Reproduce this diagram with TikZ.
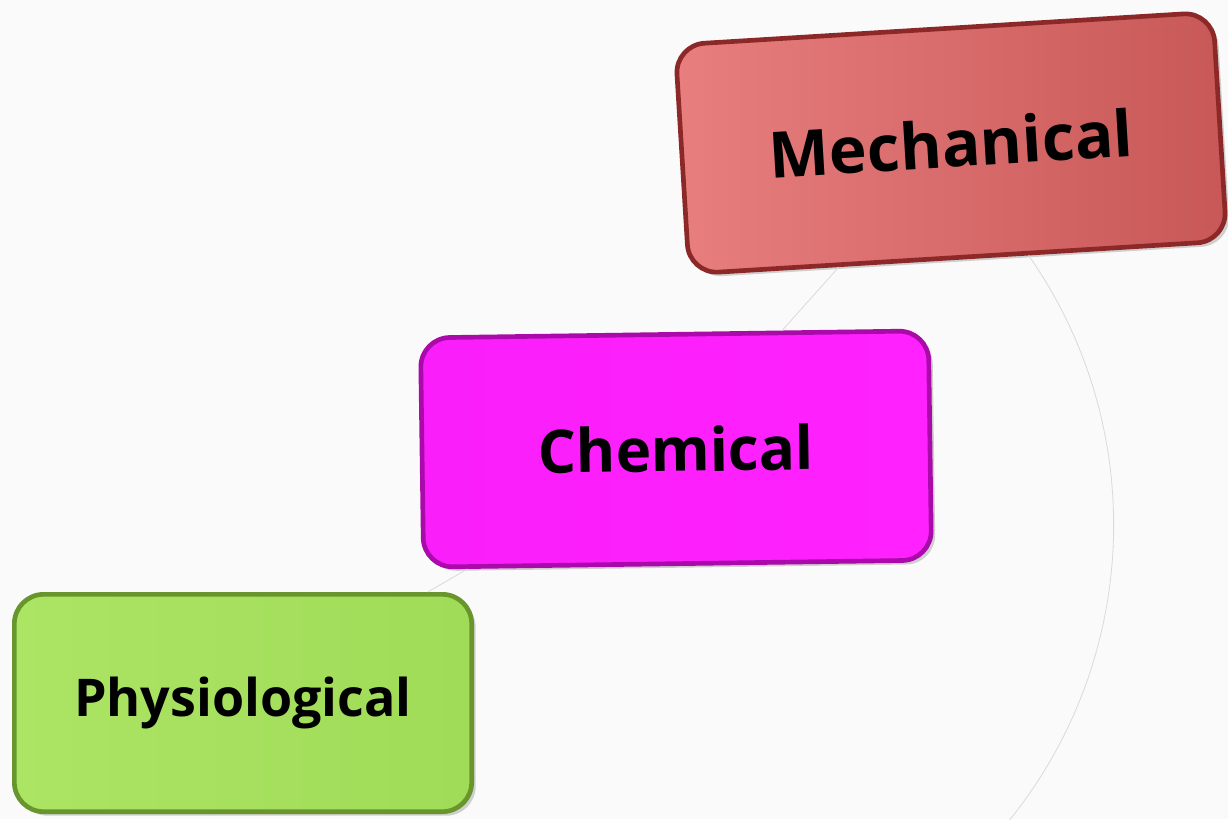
\documentclass[tikz,border=0pt]{standalone}
\usepackage{fontspec}
\setmainfont{Open Sans}
\usetikzlibrary{shadows,calc}

\definecolor{pageGray}{RGB}{250,250,250}
\definecolor{arcGray}{RGB}{218,218,218}
\definecolor{mechLight}{RGB}{232,126,126}
\definecolor{mechDark}{RGB}{200,88,88}
\definecolor{mechEdge}{RGB}{140,40,40}
\definecolor{chemLight}{RGB}{250,30,250}
\definecolor{chemDark}{RGB}{255,34,255}
\definecolor{chemEdge}{RGB}{170,10,170}
\definecolor{physLight}{RGB}{172,228,100}
\definecolor{physDark}{RGB}{160,220,88}
\definecolor{physEdge}{RGB}{104,150,44}

\tikzset{every picture/.style={line width=0.75pt}}
\tikzset{
  tiltbox/.style={rounded corners=22pt, line width=3.5pt, inner sep=0pt,
    drop shadow={shadow xshift=3pt, shadow yshift=-3pt, opacity=0.35}},
  faintlink/.style={draw=arcGray, line width=0.6pt}
}

\begin{document}
\begin{tikzpicture}[x=0.75pt,y=0.75pt,yscale=-1,xscale=1]
\fill [pageGray] (0,0) rectangle (1228,819);
\useasboundingbox (0,0) rectangle (1228,819);

% Rounded Rect
\node [tiltbox, draw=mechEdge, left color=mechLight, right color=mechDark,
  minimum width=404pt, minimum height=172pt, rotate=3.5,
  font=\fontsize{48}{58}\selectfont\bfseries] (mech) at (951,143) {Mechanical};
% Rounded Rect
\node [tiltbox, draw=chemEdge, left color=chemLight, right color=chemDark,
  minimum width=381pt, minimum height=172pt, rotate=0.8,
  font=\fontsize{45}{54}\selectfont\bfseries] (chem) at (676,449) {Chemical};
% Rounded Rect
\node [tiltbox, draw=physEdge, left color=physLight, right color=physDark,
  minimum width=343pt, minimum height=163pt, rotate=0,
  font=\fontsize{39}{48}\selectfont\bfseries] (phys) at (243,703) {Physiological};

% Faint links
\coordinate (arcStart) at ($(mech.south west)!0.63!(mech.south east)$);
\draw [faintlink] (arcStart) arc [start angle=-35, end angle=42, radius=470];
\draw [faintlink] ($(mech.south west)!0.28!(mech.south east)$) -- ($(chem.north west)!0.71!(chem.north east)$);
\draw [faintlink] ($(chem.south west)!0.09!(chem.south east)$) -- ($(phys.north west)!0.9!(phys.north east)$);

\end{tikzpicture}
\end{document}
